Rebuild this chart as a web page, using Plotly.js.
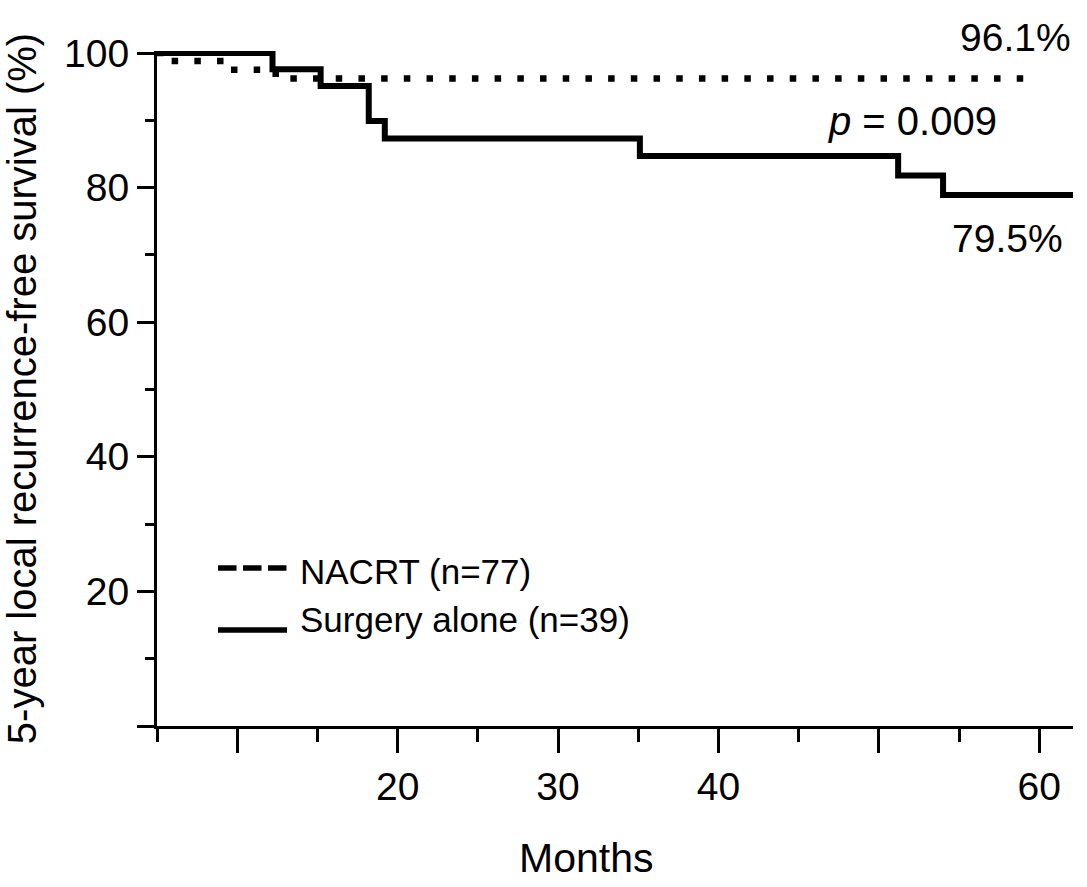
<!DOCTYPE html>
<html>
<head>
<meta charset="utf-8">
<script src="https://cdn.plot.ly/plotly-3.0.1.min.js"></script>
<style>html,body{margin:0;padding:0;background:#fff;}#chart{width:1087px;height:887px;}</style>
</head>
<body>
<div id="chart"></div>
<script>
// Data
var surgeryMonths = [5, 12.2, 15.2, 18.2, 19.2, 35.1, 51.2, 54.0, 62.1];
var surgerySurvival = [100, 97.6, 95.1, 89.9, 87.3, 84.7, 81.8, 78.9, 78.9];
var nacrtMonths = [5, 5.6, 9.5, 12.4, 60.0];
var nacrtSurvival = [100, 98.8, 97.5, 96.2, 96.2];

var xMajorTicks = [10, 20, 30, 40, 50, 60];
var xMajorLabels = ['', '20', '30', '40', '', '60'];
var xMinorTicks = [5, 15, 25, 35, 45, 55];
var yMajorTicks = [0, 20, 40, 60, 80, 100];
var yMajorLabels = ['', '20', '40', '60', '80', '100'];
var yMinorTicks = [10, 30, 50, 70, 90];

var seriesNames = ['NACRT (n=77)', 'Surgery alone (n=39)'];
var endLabels = ['96.1%', '79.5%'];
var pLabel = '<i>p</i> = 0.009';
var xTitle = 'Months';
var yTitle = '5-year local recurrence-free survival (%)';

var FONT = 'Liberation Sans, Arial, Helvetica, sans-serif';

var traces = [
  {
    x: nacrtMonths, y: nacrtSurvival, type: 'scatter', mode: 'lines',
    name: seriesNames[0],
    line: {shape: 'hv', color: '#000', width: 6.5, dash: '6.5px,16.2px'},
    hoverinfo: 'x+y'
  },
  {
    x: surgeryMonths, y: surgerySurvival, type: 'scatter', mode: 'lines',
    name: seriesNames[1],
    line: {shape: 'hv', color: '#000', width: 6},
    hoverinfo: 'x+y'
  }
];

function px2paperX(px) { return (px - 157) / 916; }
function px2paperY(py) { return (726 - py) / 675; }

var layout = {
  width: 1087, height: 887,
  margin: {l: 157, r: 14, t: 51, b: 161, pad: 0},
  paper_bgcolor: '#fff', plot_bgcolor: '#fff',
  showlegend: false,
  font: {family: FONT, color: '#000'},
  xaxis: {
    range: [5, 62.1], showgrid: false, zeroline: false,
    showline: true, linecolor: '#000', linewidth: 3,
    ticks: 'outside', ticklen: 24, tickwidth: 3, tickcolor: '#000',
    tickmode: 'array', tickvals: xMajorTicks, ticktext: xMajorLabels,
    tickfont: {size: 39, family: FONT, color: '#000'},
    ticklabelstandoff: 0,
    minor: {tickmode: 'array', tickvals: xMinorTicks, ticks: 'outside', ticklen: 13, tickwidth: 3, tickcolor: '#000', showgrid: false}
  },
  yaxis: {
    range: [0, 100.3], showgrid: false, zeroline: false,
    showline: true, linecolor: '#000', linewidth: 3,
    ticks: 'outside', ticklen: 17, tickwidth: 3, tickcolor: '#000',
    tickmode: 'array', tickvals: yMajorTicks, ticktext: yMajorLabels,
    tickfont: {size: 39, family: FONT, color: '#000'},
    minor: {tickmode: 'array', tickvals: yMinorTicks, ticks: 'outside', ticklen: 9, tickwidth: 3, tickcolor: '#000', showgrid: false},
    title: {text: yTitle, font: {size: 40, family: FONT, color: '#000'}, standoff: 18}
  },
  shapes: [
    {type: 'line', xref: 'paper', yref: 'paper',
     x0: px2paperX(218), x1: px2paperX(287), y0: px2paperY(568), y1: px2paperY(568),
     line: {color: '#000', width: 5.5, dash: '18.5px,6.5px'}},
    {type: 'line', xref: 'paper', yref: 'paper',
     x0: px2paperX(218), x1: px2paperX(287), y0: px2paperY(630), y1: px2paperY(630),
     line: {color: '#000', width: 5.5}}
  ],
  annotations: [
    {text: endLabels[0], xref: 'paper', yref: 'paper', x: 1.0, y: px2paperY(38),
     xanchor: 'right', yanchor: 'middle', showarrow: false, font: {size: 39, family: FONT, color: '#000'}},
    {text: endLabels[1], xref: 'paper', yref: 'paper', x: px2paperX(1065), y: px2paperY(238),
     xanchor: 'right', yanchor: 'middle', showarrow: false, font: {size: 39, family: FONT, color: '#000'}},
    {text: pLabel, xref: 'paper', yref: 'paper', x: px2paperX(826), y: px2paperY(121),
     xanchor: 'left', yanchor: 'middle', showarrow: false, font: {size: 40, family: FONT, color: '#000'}},
    {text: seriesNames[0], xref: 'paper', yref: 'paper', x: px2paperX(298), y: px2paperY(571),
     xanchor: 'left', yanchor: 'middle', showarrow: false, font: {size: 35, family: FONT, color: '#000'}},
    {text: seriesNames[1], xref: 'paper', yref: 'paper', x: px2paperX(298), y: px2paperY(619),
     xanchor: 'left', yanchor: 'middle', showarrow: false, font: {size: 35, family: FONT, color: '#000'}},
    {text: xTitle, xref: 'paper', yref: 'paper', x: px2paperX(586), y: px2paperY(858),
     xanchor: 'center', yanchor: 'middle', showarrow: false, font: {size: 41, family: FONT, color: '#000'}}
  ]
};

Plotly.newPlot('chart', traces, layout, {displayModeBar: false, staticPlot: true});
</script>
</body>
</html>
